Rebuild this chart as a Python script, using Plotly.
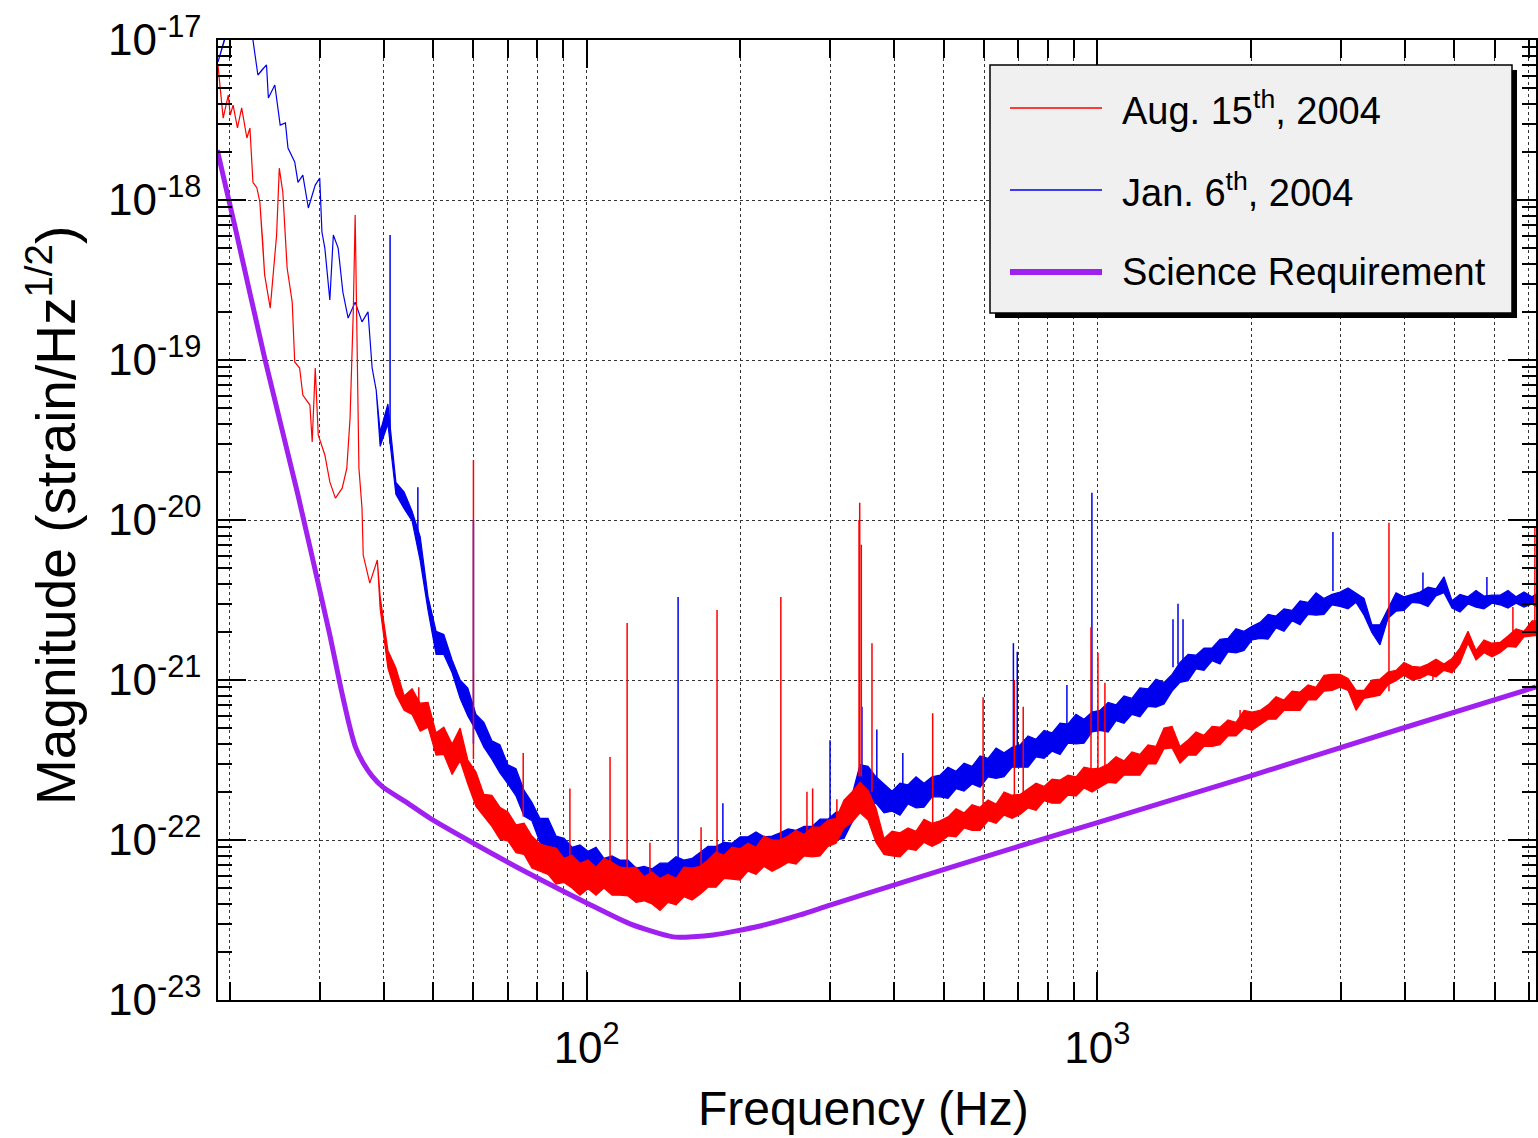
import plotly.graph_objects as go

# ---------------- data ----------------
# sample frequencies (Hz) of the dense, noisy part of both spectra
freq_grid = [39.4, 40.8, 42.3, 43.9, 45.5, 47.2, 48.9, 50.7, 52.5, 54.5,
             56.5, 58.5, 60.7, 62.9, 65.2, 67.6, 70.1, 72.7, 75.4, 78.1,
             81.0, 84.0, 87.1, 90.3, 93.6, 97.0, 100.6, 104.3, 108.1, 112.1,
             116.2, 120.5, 124.9, 129.5, 134.3, 139.2, 144.3, 149.6, 155.1, 160.8,
             166.7, 172.8, 179.2, 185.8, 192.6, 199.7, 207.0, 214.6, 222.5, 230.7,
             239.2, 248.0, 257.0, 266.5, 276.3, 286.4, 296.9, 307.8, 319.1, 330.8,
             343.0, 355.6, 368.6, 382.2, 396.3, 410.8, 425.9, 441.6, 457.8, 474.6,
             492.0, 510.1, 528.9, 548.3, 568.5, 589.4, 611.0, 633.5, 656.8, 680.8,
             705.9, 731.8, 758.6, 786.5, 815.4, 845.3, 876.3, 908.6, 941.9, 976.5,
             1012, 1050, 1088, 1128, 1169, 1212, 1257, 1303, 1351, 1401,
             1452, 1506, 1561, 1618, 1678, 1739, 1803, 1869, 1938, 2009,
             2083, 2160, 2239, 2321, 2407, 2495, 2587, 2682, 2780, 2882,
             2988, 3098, 3212, 3330, 3451, 3578, 3710, 3846, 3987, 4134,
             4285, 4443, 4606, 4775, 4951, 5133, 5321, 5517, 5719, 5929,
             6147, 6373, 6607, 6850, 7102, 7362]

# per-bin maximum / minimum of each spectrum, in dB (20*log10 of strain/Hz^1/2)
jan_max_db = [-389.0, -385.5, -395.3, -396.5, -398.9, -402.1, -409.6, -413.9, -414.3, -417.5,
              -420.0, -421.0, -424.3, -425.3, -427.6, -428.1, -430.6, -431.1, -433.8, -435.3,
              -437.3, -437.3, -439.5, -439.8, -440.9, -440.6, -441.4, -440.9, -442.3, -442.0,
              -442.5, -442.5, -443.5, -443.3, -443.6, -442.9, -442.9, -442.1, -442.5, -442.3,
              -441.5, -440.8, -440.8, -440.3, -440.4, -439.6, -439.6, -439.0, -439.6, -439.5,
              -439.1, -438.6, -438.8, -438.3, -438.3, -437.4, -437.4, -436.5, -436.5, -434.4,
              -430.6, -430.8, -432.1, -433.0, -433.9, -432.9, -433.1, -432.1, -432.9, -432.1,
              -431.9, -430.9, -431.4, -430.4, -430.8, -429.5, -429.8, -428.5, -429.1, -428.4,
              -428.1, -427.0, -427.4, -426.3, -426.6, -425.4, -425.5, -424.3, -424.9, -424.0,
              -423.8, -422.8, -423.1, -422.0, -422.3, -421.0, -421.1, -419.9, -420.3, -419.3,
              -417.8, -416.8, -416.9, -416.0, -416.0, -414.9, -414.8, -413.6, -413.9, -413.3,
              -412.8, -411.8, -412.0, -411.1, -411.3, -410.1, -410.3, -409.1, -409.8, -409.3,
              -409.0, -408.5, -409.1, -409.8, -413.1, -413.1, -411.1, -409.1, -409.6, -409.3,
              -409.0, -408.4, -408.6, -407.1, -410.1, -409.3, -409.6, -408.8, -409.5, -409.4,
              -409.4, -408.8, -409.6, -409.0, -409.6, -408.9]
jan_min_db = [-390.8, -388.0, -396.8, -398.6, -400.1, -405.1, -411.3, -416.8, -416.8, -419.1,
              -422.3, -424.5, -426.3, -428.4, -429.9, -431.6, -433.0, -434.5, -437.0, -437.6,
              -440.3, -441.3, -442.0, -443.1, -443.4, -444.4, -444.0, -444.3, -445.3, -444.1,
              -445.5, -446.0, -446.0, -446.4, -446.1, -446.4, -445.5, -445.5, -445.8, -444.4,
              -444.5, -444.3, -443.3, -443.4, -442.9, -443.1, -442.3, -442.4, -442.8, -441.6,
              -442.0, -442.1, -441.0, -441.4, -440.6, -440.9, -439.8, -440.0, -439.8, -437.8,
              -436.0, -435.5, -435.4, -436.6, -436.4, -436.9, -435.5, -436.0, -435.9, -434.6,
              -434.6, -434.8, -433.6, -433.9, -433.0, -433.4, -432.1, -432.3, -432.1, -430.9,
              -430.9, -430.9, -429.6, -429.8, -428.9, -429.3, -427.9, -428.0, -427.9, -426.5,
              -426.3, -426.5, -425.1, -425.4, -424.3, -424.6, -423.3, -423.4, -423.0, -421.4,
              -420.3, -420.1, -418.6, -418.8, -417.6, -418.0, -416.5, -416.6, -416.3, -415.0,
              -414.8, -414.9, -413.5, -413.9, -412.6, -413.1, -411.8, -411.9, -411.8, -410.6,
              -410.8, -411.1, -410.3, -411.9, -414.1, -415.6, -412.3, -411.4, -411.3, -410.3,
              -410.4, -410.8, -409.5, -409.1, -411.0, -411.5, -410.5, -410.9, -411.1, -410.4,
              -410.6, -411.0, -410.4, -410.9, -410.5, -411.1]

aug_max_db = [-409.6, -416.3, -418.5, -422.0, -421.1, -422.9, -422.8, -426.6, -425.9, -428.0,
              -426.0, -430.0, -431.5, -434.3, -434.4, -435.9, -436.5, -438.1, -437.9, -439.5,
              -440.5, -440.8, -441.0, -442.3, -441.9, -442.9, -442.5, -443.4, -442.3, -442.8,
              -443.4, -443.5, -443.4, -444.6, -444.0, -444.8, -444.3, -444.8, -443.4, -443.5,
              -443.3, -442.5, -441.5, -441.9, -440.9, -441.1, -440.4, -440.9, -439.5, -440.0,
              -440.0, -439.5, -438.8, -439.3, -438.4, -438.4, -437.5, -437.3, -435.0, -434.0,
              -432.8, -433.8, -436.0, -439.8, -438.9, -439.1, -438.5, -438.9, -437.4, -437.9,
              -437.6, -437.1, -436.1, -436.6, -435.6, -435.9, -435.0, -435.5, -434.0, -434.4,
              -434.3, -433.6, -432.9, -433.3, -432.4, -432.5, -431.9, -432.1, -430.9, -431.1,
              -431.0, -430.5, -429.6, -430.1, -429.0, -429.3, -428.1, -428.3, -426.0, -425.8,
              -428.3, -427.5, -426.5, -426.9, -425.8, -425.9, -425.0, -425.3, -423.8, -424.0,
              -423.8, -423.1, -422.1, -422.5, -421.4, -421.5, -420.6, -420.9, -419.4, -419.3,
              -419.3, -419.8, -421.3, -421.3, -420.0, -419.9, -419.0, -418.8, -417.8, -418.3,
              -418.4, -418.0, -417.4, -418.0, -417.3, -416.0, -413.9, -416.3, -415.0, -415.4,
              -415.3, -414.5, -413.6, -413.9, -412.6, -412.6]
aug_min_db = [-411.1, -418.5, -421.8, -423.8, -424.3, -426.4, -425.9, -429.4, -429.3, -431.8,
              -430.1, -433.0, -435.8, -437.0, -438.3, -439.9, -440.1, -441.6, -441.8, -443.5,
              -443.9, -444.3, -445.5, -445.3, -446.0, -446.9, -446.1, -446.9, -446.0, -446.9,
              -446.9, -447.0, -447.8, -447.6, -448.0, -448.8, -447.8, -448.1, -447.1, -447.5,
              -446.8, -445.9, -445.9, -444.8, -444.9, -445.0, -443.9, -444.3, -443.3, -443.9,
              -443.4, -442.8, -443.0, -442.0, -442.1, -442.0, -440.8, -440.4, -438.5, -437.8,
              -436.6, -437.5, -440.3, -441.8, -442.0, -442.1, -441.1, -441.3, -440.3, -440.8,
              -440.3, -439.5, -439.6, -438.5, -438.8, -438.8, -437.6, -437.9, -436.9, -437.3,
              -436.8, -436.0, -436.3, -435.1, -435.4, -435.4, -434.4, -434.5, -433.5, -434.0,
              -433.4, -432.8, -432.9, -431.9, -431.9, -431.9, -430.5, -430.5, -428.6, -428.5,
              -430.4, -429.4, -429.4, -428.3, -428.3, -428.1, -427.0, -427.0, -426.0, -426.3,
              -425.6, -424.9, -424.9, -423.8, -423.8, -423.8, -422.5, -422.5, -421.4, -421.3,
              -420.9, -421.3, -423.8, -422.3, -422.1, -421.9, -420.6, -420.1, -419.4, -420.0,
              -419.8, -419.3, -419.6, -418.8, -419.1, -417.9, -415.4, -417.5, -416.6, -417.1,
              -416.6, -415.8, -415.9, -414.6, -414.5, -414.4]

# low-frequency (seismic wall) parts, strain/Hz^1/2
jan_low_freq = [18.96, 19.31, 19.66, 20.0, 21.0, 21.9, 22.2, 22.7, 23.1, 23.6, 23.8, 24.5, 25.1, 25.7,
                26.0, 26.8, 27.2, 27.8, 28.5, 29.4, 30.0, 30.3, 30.7, 31.4, 31.9, 32.6, 33.3, 34.1,
                35.2, 36.3, 37.3, 38.0, 38.7]
jan_low_mag = [7.29e-18, 8.91e-18, 1.07e-17, 1.33e-17, 1.5e-17, 1.33e-17, 1.0e-17, 6.04e-18, 6.49e-18, 6.98e-18,
               4.34e-18, 5.23e-18, 2.94e-18, 3.03e-18, 2.11e-18, 1.73e-18, 1.29e-18, 1.43e-18, 8.91e-19, 1.24e-18,
               1.37e-18, 6.31e-19, 5.01e-19, 2.37e-19, 6.04e-19, 5.01e-19, 2.66e-19, 1.83e-19, 2.30e-19, 1.73e-19,
               2.00e-19, 8.91e-20, 6.49e-20]

aug_low_freq = [18.96, 19.15, 19.41, 19.86, 20.04, 20.3, 20.7, 21.1, 21.6, 21.9, 22.2, 22.6, 22.9, 23.2,
                23.4, 24.0, 24.3, 24.7, 25.0, 25.4, 25.9, 26.5, 26.8, 27.4, 27.8, 28.7, 29.0, 29.4,
                29.8, 30.7, 31.4, 32.2, 33.2, 33.9, 34.4, 34.9, 35.2, 35.6, 35.8, 36.3, 36.5, 37.6, 38.9]
aug_low_mag = [6.98e-18, 5.01e-18, 3.25e-18, 4.53e-18, 3.40e-18, 3.92e-18, 2.82e-18, 3.76e-18, 2.44e-18, 2.82e-18,
               1.29e-18, 1.19e-18, 9.72e-19, 5.46e-19, 3.40e-19, 2.11e-19, 3.40e-19, 6.04e-19, 1.58e-18, 1.12e-18,
               3.76e-19, 2.30e-19, 9.72e-20, 8.91e-20, 6.04e-20, 5.23e-20, 3.07e-20, 8.91e-20, 3.40e-20, 2.55e-20,
               1.73e-20, 1.37e-20, 1.58e-20, 2.11e-20, 4.34e-20, 2.00e-19, 8.05e-19, 8.91e-20, 2.11e-20, 1.19e-20,
               6.04e-21, 4.03e-21, 5.62e-21]

# narrow spectral lines: frequency, level at the foot, level at the top
jan_line_freq = [41.2, 46.7, 60.0, 151.0, 184.8, 299.6, 346, 370, 416, 685, 697, 872, 976,
                 1407, 1439, 1472, 2894, 4343, 5795]
jan_line_foot = [3.0e-20, 8.0e-21, 4.0e-22, 6.0e-23, 7.0e-23, 1.1e-22, 2.5e-22, 2.0e-22, 1.8e-22, 3.3e-22, 3.4e-22,
                 4.2e-22, 5.0e-22, 1.2e-21, 1.25e-21, 1.3e-21, 3.6e-21, 3.3e-21, 3.2e-21]
jan_line_top = [6.05e-19, 1.6e-20, 1.0e-20, 3.3e-21, 1.7e-22, 4.2e-22, 6.8e-22, 4.9e-22, 3.5e-22, 1.7e-21, 1.5e-21,
                9.3e-22, 1.48e-20, 2.4e-21, 3.0e-21, 2.4e-21, 8.4e-21, 4.7e-21, 4.4e-21]

aug_line_freq = [46.9, 60.0, 75.1, 92.7, 111.1, 120.0, 133, 167.5, 180.0, 240.0, 270, 277, 309,
                 341.5, 342.5, 345, 362, 476, 597.5, 688, 716, 972, 1003, 1035, 1904,
                 3726, 4543, 6516, 7194]
aug_line_foot = [5.0e-22, 3.2e-22, 1.4e-22, 7.0e-23, 6.5e-23, 6.0e-23, 5.5e-23, 6.0e-23, 5.5e-23, 8.0e-23, 9.0e-23,
                 9.5e-23, 1.0e-22, 2.5e-22, 2.5e-22, 2.5e-22, 2.0e-22, 1.2e-22, 1.5e-22, 1.8e-22, 1.9e-22, 2.3e-22,
                 2.4e-22, 2.4e-22, 5.0e-22, 8.5e-22, 1.0e-21, 1.75e-21, 2.1e-21]
aug_line_top = [9.0e-22, 2.37e-20, 3.5e-22, 2.1e-22, 3.3e-22, 2.27e-21, 9.6e-23, 1.2e-22, 2.74e-21, 3.3e-21, 2.0e-22,
                2.1e-22, 1.8e-22, 1.0e-20, 1.28e-20, 7.0e-21, 1.7e-21, 6.2e-22, 7.8e-22, 1.0e-21, 6.8e-22, 2.14e-21,
                1.48e-21, 9.6e-22, 6.5e-22, 9.6e-21, 1.21e-21, 2.86e-21, 9.0e-21]

# Science Requirement
req_freq = [18.9, 20.5, 23.4, 27.2, 31.4, 33.0, 34.4, 35.3, 36.5, 38.0, 39.9, 44.0, 49.3, 59.9, 77.4, 100,
            121.6, 147.6, 176.8, 218.5, 261.6, 299.6, 411, 645, 1012, 1991, 3915, 7228]
req_mag = [2.05e-18, 6.68e-19, 1.03e-19, 1.43e-20, 1.91e-21, 8.91e-22, 5.01e-22, 3.76e-22, 3.03e-22, 2.51e-22,
           2.14e-22, 1.75e-22, 1.37e-22, 9.58e-23, 6.13e-23, 4.04e-23, 2.99e-23, 2.48e-23, 2.55e-23, 2.90e-23,
           3.40e-23, 3.92e-23, 5.38e-23, 8.41e-23, 1.30e-22, 2.51e-22, 4.94e-22, 9.04e-22]

# axis ticks
x_major_vals = [100, 1000]
x_major_text = ["10<sup>2</sup>", "10<sup>3</sup>"]
x_minor_vals = [20, 30, 40, 50, 60, 70, 80, 90, 200, 300, 400, 500, 600, 700, 800, 900,
                2000, 3000, 4000, 5000, 6000, 7000]
y_major_vals = [1e-23, 1e-22, 1e-21, 1e-20, 1e-19, 1e-18, 1e-17]
y_major_text = ["10<sup>-23</sup>", "10<sup>-22</sup>", "10<sup>-21</sup>", "10<sup>-20</sup>",
                "10<sup>-19</sup>", "10<sup>-18</sup>", "10<sup>-17</sup>"]
y_minor_vals = [m * d for d in y_major_vals[:-1] for m in range(2, 10)]


def from_db(values):
    return [10 ** (v / 20.0) for v in values]


def band_outline(low_f, low_m, max_db, min_db):
    """closed outline: low-frequency trace, upper envelope forward, lower envelope back"""
    xs = list(low_f) + list(freq_grid) + list(reversed(freq_grid)) + list(reversed(low_f))
    ys = list(low_m) + from_db(max_db) + list(reversed(from_db(min_db))) + list(reversed(low_m))
    return xs, ys


def line_segments(freqs, foot, top):
    xs, ys = [], []
    for f, a, b in zip(freqs, foot, top):
        xs += [f, f, None]
        ys += [a, b, None]
    return xs, ys


RED = "#ff0000"
BLUE = "#0000ee"
PURPLE = "#a020f0"
FONT = "Liberation Sans, Arial, Helvetica, sans-serif"

fig = go.Figure()
jx, jy = band_outline(jan_low_freq, jan_low_mag, jan_max_db, jan_min_db)
fig.add_trace(go.Scatter(x=jx, y=jy, mode="lines", fill="toself", fillcolor=BLUE,
                         line=dict(color=BLUE, width=1.2), name="Jan. 6th, 2004", showlegend=False))
lx, ly = line_segments(jan_line_freq, jan_line_foot, jan_line_top)
fig.add_trace(go.Scatter(x=lx, y=ly, mode="lines", line=dict(color=BLUE, width=1.5), showlegend=False))

ax, ay = band_outline(aug_low_freq, aug_low_mag, aug_max_db, aug_min_db)
fig.add_trace(go.Scatter(x=ax, y=ay, mode="lines", fill="toself", fillcolor=RED,
                         line=dict(color=RED, width=1.2), name="Aug. 15th, 2004", showlegend=False))
lx, ly = line_segments(aug_line_freq, aug_line_foot, aug_line_top)
fig.add_trace(go.Scatter(x=lx, y=ly, mode="lines", line=dict(color=RED, width=1.5), showlegend=False))

fig.add_trace(go.Scatter(x=req_freq, y=req_mag, mode="lines",
                         line=dict(color=PURPLE, width=5, shape="spline", smoothing=0.6),
                         name="Science Requirement", showlegend=False))

W, H = 1538, 1138
L, R, T, B = 218, 1536, 40, 1000


def px(X):
    return (X - L) / (R - L)


def py(Y):
    return (B - Y) / (B - T)


grid_style = dict(showgrid=True, gridcolor="#333333", griddash="dot", gridwidth=1)

fig.update_layout(
    width=W, height=H,
    margin=dict(l=L, r=W - R, t=T, b=H - B, autoexpand=False),
    paper_bgcolor="white", plot_bgcolor="white",
    font=dict(family=FONT, color="black"),
    showlegend=False,
)
fig.update_xaxes(
    type="log", range=[1.2779, 3.8592], automargin=False,
    showline=True, linecolor="black", linewidth=1.5, mirror="ticks",
    ticks="inside", ticklen=28, tickwidth=1.5, tickcolor="black",
    tickmode="array", tickvals=x_major_vals, ticktext=x_major_text,
    tickfont=dict(size=44, family=FONT, color="black"),
    ticklabelstandoff=8,
    zeroline=False, **grid_style,
    minor=dict(tickmode="array", tickvals=x_minor_vals, ticks="inside", ticklen=18,
               tickwidth=1.5, tickcolor="black", **grid_style),
)
fig.update_yaxes(
    type="log", range=[-23, -17], automargin=False,
    showline=True, linecolor="black", linewidth=1.5, mirror="ticks",
    ticks="inside", ticklen=28, tickwidth=1.5, tickcolor="black",
    tickmode="array", tickvals=y_major_vals, ticktext=y_major_text,
    tickfont=dict(size=44, family=FONT, color="black"),
    ticklabelstandoff=6,
    zeroline=False, **grid_style,
    minor=dict(tickmode="array", tickvals=y_minor_vals, ticks="inside", ticklen=14,
               tickwidth=1.5, tickcolor="black", showgrid=False),
)

# axis titles
fig.add_annotation(text="Frequency (Hz)", xref="paper", yref="paper", x=px(863), y=py(1108),
                   xanchor="center", yanchor="middle", showarrow=False,
                   font=dict(size=48, family=FONT, color="black"))
fig.add_annotation(text="Magnitude (strain/Hz<sup>1/2</sup>)", xref="paper", yref="paper",
                   x=px(52), y=py(516), xanchor="center", yanchor="middle", textangle=-90,
                   showarrow=False, font=dict(size=55, family=FONT, color="black"))

# legend (drawn by hand, ROOT style with drop shadow)
fig.add_shape(type="rect", xref="paper", yref="paper", x0=px(995), x1=px(1517), y0=py(318), y1=py(70),
              fillcolor="black", line=dict(width=0), layer="above")
fig.add_shape(type="rect", xref="paper", yref="paper", x0=px(990), x1=px(1512), y0=py(313), y1=py(65),
              fillcolor="#f0f0f0", line=dict(color="black", width=1.5), layer="above")
legend_rows = [("Aug. 15<sup>th</sup>, 2004", RED, 1.3, 108),
               ("Jan. 6<sup>th</sup>, 2004", BLUE, 1.3, 190),
               ("Science Requirement", PURPLE, 6, 272)]
for label, color, lw, yrow in legend_rows:
    fig.add_shape(type="line", xref="paper", yref="paper", x0=px(1010), x1=px(1102), y0=py(yrow), y1=py(yrow),
                  line=dict(color=color, width=lw), layer="above")
    fig.add_annotation(text=label, xref="paper", yref="paper", x=px(1120), y=py(yrow),
                       xanchor="left", yanchor="middle", showarrow=False,
                       font=dict(size=38, family=FONT, color="black"))

# place the figure at the very top-left of the page (no default body margin), no mode bar
fig.write_html("out.html",
               config={"displayModeBar": False},
               post_script="document.body.style.margin='0px';document.body.style.overflow='hidden';")
